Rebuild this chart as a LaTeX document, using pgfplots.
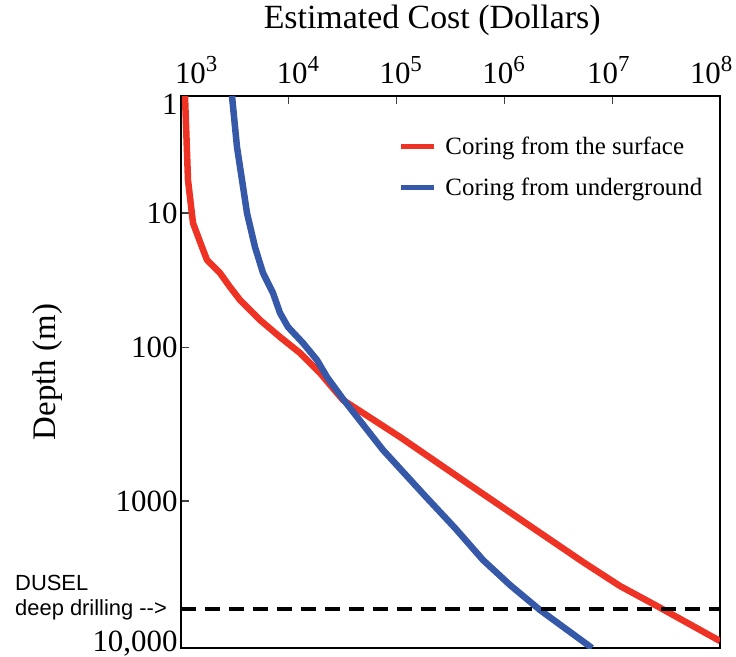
\documentclass[border=0pt]{standalone}
\usepackage{fontspec}
\setmainfont{Liberation Serif}
\newfontfamily\arialfont{Liberation Sans}
\usepackage{pgfplots}
\pgfplotsset{compat=1.18}
\definecolor{cred}{RGB}{238,50,36}
\definecolor{cblue}{RGB}{54,88,168}
\newcommand{\pw}[2]{\makebox[0pt][l]{\hspace*{#2}10\raisebox{0.42em}{\fontsize{23}{23}\selectfont #1}}}

\begin{document}
\begin{tikzpicture}
\begin{axis}[
  at={(0bp,0bp)}, anchor=south west,
  scale only axis, width=539bp, height=552bp,
  xmode=log, ymode=log,
  xmin=1e3, xmax=1e8, ymin=1, ymax=1e4,
  y dir=reverse,
  axis line style={line width=2.5bp},
  xminorticks=false, yminorticks=false,
  xtick={1e3,1e4,1e5,1e6,1e7,1e8},
  xticklabels={\pw{3}{-6bp},\pw{4}{-12bp},\pw{5}{-17bp},\pw{6}{-22bp},\pw{7}{-25bp},\pw{8}{-30bp}},
  xtick pos=right, xticklabel pos=right,
  ytick={1,7.05,66.7,860,10000},
  yticklabels={\raisebox{-8bp}[\height][\depth]{1},10,100,1000,\raisebox{4bp}[\height][\depth]{10,000}},
  ytick pos=left,
  tick align=inside,
  major tick length=8bp,
  tick style={line width=1.2bp, black!75},
  xticklabel style={font=\fontsize{31}{33}\selectfont, anchor=base, yshift=12bp},
  yticklabel style={font=\fontsize{31}{33}\selectfont},
  xlabel={Estimated Cost (Dollars)},
  xlabel style={font=\fontsize{34}{36}\selectfont, at={(axis description cs:0.466,1)}, anchor=base, yshift=67bp},
  ylabel={Depth (m)},
  ylabel style={font=\fontsize{33}{35}\selectfont, at={(axis description cs:-0.247,0.5)}, anchor=center},
  legend style={draw=none, fill=none, at={(axis description cs:0.404,0.871)}, anchor=west, inner sep=0pt,
    font=\fontsize{25}{27}\selectfont, row sep=18bp, legend cell align=left,
    /tikz/every odd column/.append style={column sep=7bp}},
  legend image code/.code={\draw[#1, line width=4.5bp] (0bp,0bp) -- (33bp,0bp);},
]
\addplot[cred, line width=6.5bp, line join=round] coordinates {
(1089,1) (1161,4.06) (1292,8.325) (1566,12.43) (1743,15.43) (2300,19.17)
(2848,24.22) (3526,30.08) (5405,42.01) (8287,55.77) (12700,72.82)
(19470,101.7) (31830,159.6) (107500,295.8) (449900,637.4) (1842000,1350)
(5358000,2381) (11810000,3554) (26030000,4963) (100000000,8899)
};
\addlegendentry{Coring from the surface}
\addplot[cblue, line width=6.5bp, line join=round] coordinates {
(2972,1) (3307,2.342) (3681,4.06) (4095,7.05) (4858,12.43) (5764,19.17)
(7136,26.77) (8287,37.36) (9831,47.2) (13540,61.65) (18260,81.9)
(22610,108.7) (31830,156.9) (74770,367.5) (191400,819) (348000,1350)
(633100,2303) (1127000,3495) (2139000,5305) (6495000,10000)
};
\addlegendentry{Coring from underground}
\addplot[black, line width=3.5bp, dash pattern=on 15bp off 9bp, forget plot] coordinates {(1000,5217) (100000000,5217)};
\end{axis}
\node[anchor=west, font=\arialfont\fontsize{22}{24}\selectfont, inner sep=0pt] at (-166bp,65bp) {DUSEL};
\node[anchor=west, font=\arialfont\fontsize{22}{24}\selectfont, inner sep=0pt] at (-166bp,38bp) {deep drilling -->};
\pgfresetboundingbox
\path (-181bp,-9bp) rectangle (555bp,648bp);
\end{tikzpicture}
\end{document}
